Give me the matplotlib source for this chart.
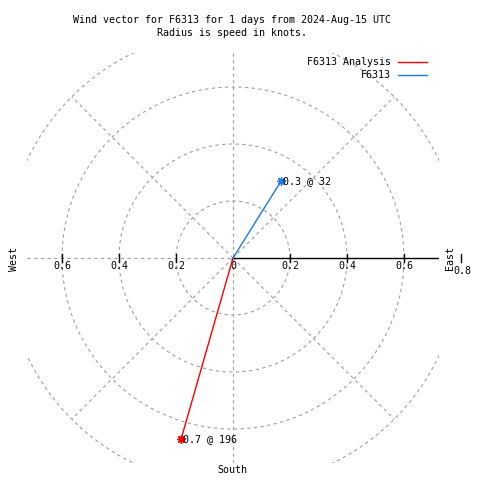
import numpy as np
import matplotlib
matplotlib.use("Agg")
import matplotlib.pyplot as plt

# --- data
series = ["F6313 Analysis", "F6313"]
speeds = [0.66, 0.32]          # knots
directions = [196, 32]         # degrees, clockwise from north
colors = ["#ff0000", "#1e78e6"]
ring_radii = [0.2, 0.4, 0.6, 0.8]
tick_vals = [-0.6, -0.4, -0.2, 0, 0.2, 0.4, 0.6]
tick_text = ["0.6", "0.4", "0.2", "0", "0.2", "0.4", "0.6"]

plt.rcParams['font.family'] = ['DejaVu Sans Mono']
fs = 7.2
grey = "#a0a0a0"

fig = plt.figure(figsize=(4.8, 4.8), dpi=100)
W, H = 480, 480
ax = fig.add_axes([27 / W, (H - 463) / H, 412 / W, 410 / H])
xr = 206 / 285
yr = 205 / 285
ax.set_xlim(-xr, xr)
ax.set_ylim(-yr, yr)
ax.axis("off")

# rings
th = np.linspace(0, 2 * np.pi, 721)
for r in ring_radii:
    ax.plot(r * np.cos(th), r * np.sin(th), color=grey, lw=0.8,
            dashes=(3, 3), zorder=1)

# diagonal spokes
for a in [45, 135, 225, 315]:
    rad = np.deg2rad(a)
    ax.plot([0, 0.8 * np.cos(rad)], [0, 0.8 * np.sin(rad)], color=grey,
            lw=0.8, dashes=(3, 3), zorder=1)

# vertical dashed axis, left dashed axis, right solid axis
ax.plot([0, 0], [-yr, yr], color=grey, lw=0.8, dashes=(3, 3), zorder=1)
ax.plot([-xr, 0], [0, 0], color=grey, lw=0.8, dashes=(3, 3), zorder=1)
ax.plot([0, xr], [0, 0], color="black", lw=1.0, zorder=2)

# ticks and labels
tk = 4 / 285
for v, t in zip(tick_vals, tick_text):
    if v != 0:
        ax.plot([v, v], [-tk, tk], color="black", lw=1.0, zorder=2)
    ax.text(v, -0.029, t, ha="center", va="center", fontsize=fs)
ax.plot([0.8, 0.8], [-tk, tk], color="black", lw=1.0, clip_on=False)
ax.text(0.805, -0.046, "0.8", ha="center", va="center", fontsize=fs,
        clip_on=False)

ax.text(0.76, 0.0, "East", rotation=90, ha="center", va="center",
        fontsize=fs, clip_on=False)
fig.text(14 / W, 1 - 259 / H, "West", rotation=90, ha="center",
         va="center", fontsize=fs)
fig.text(232 / W, 1 - 470 / H, "South", ha="center", va="center",
         fontsize=fs)

# wind vectors
for name, s, d, c in zip(series, speeds, directions, colors):
    rad = np.deg2rad(d)
    x, y = s * np.sin(rad), s * np.cos(rad)
    ax.plot([0, x], [0, y], color=c, lw=1.0, zorder=3)
    ax.plot(x, y, marker=(8, 2, 0), color=c, ms=6, mew=1.0, zorder=4,
            clip_on=False)
    ax.annotate(f"{s:.1f} @ {d}", (x, y), xytext=(1.5, 0),
                textcoords="offset points", ha="left", va="center",
                fontsize=fs, zorder=5)

# legend
for i, (name, c) in enumerate(zip(series, colors)):
    yy = 1 - (62 + 13 * i) / H
    fig.text(391 / W, yy, name, ha="right", va="center", fontsize=fs)
    fig.add_artist(plt.Line2D([398 / W, 427 / W], [yy, yy], color=c,
                              lw=1.0, transform=fig.transFigure))

fig.text(232 / W, 1 - 20 / H,
         "Wind vector for F6313 for 1 days from 2024-Aug-15 UTC",
         ha="center", va="center", fontsize=fs)
fig.text(232 / W, 1 - 33 / H, "Radius is speed in knots.",
         ha="center", va="center", fontsize=fs)

fig.savefig("out.png", dpi=100, facecolor="white")
